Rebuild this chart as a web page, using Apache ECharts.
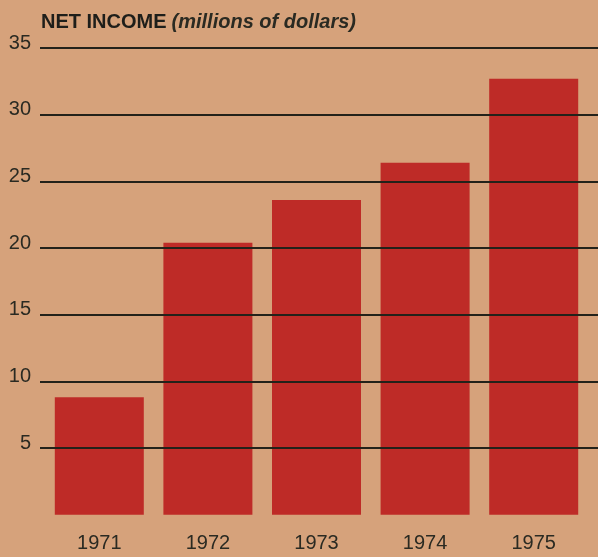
<!DOCTYPE html>
<html>
<head>
<meta charset="utf-8">
<script src="https://cdn.jsdelivr.net/npm/echarts@6/dist/echarts.min.js"></script>
<style>
html,body{margin:0;padding:0;background:#d6a27b;}
#c{width:598px;height:557px;}
</style>
</head>
<body>
<div id="c"></div>
<script>
const years = ['1971', '1972', '1973', '1974', '1975'];
const netIncome = [8.8, 20.4, 23.6, 26.4, 32.7];
const yTicks = [5, 10, 15, 20, 25, 30, 35];

const chart = echarts.init(document.getElementById('c'), null, {renderer: 'canvas'});
const font = '"Liberation Sans", Arial, Helvetica, sans-serif';
const ink = '#2a2a22';

chart.setOption({
  backgroundColor: '#d6a27b',
  animation: false,
  title: {
    left: 36, top: 7,
    text: '{b|NET INCOME} {i|(millions of dollars)}',
    textStyle: {
      rich: {
        b: {fontFamily: font, fontSize: 20, fontWeight: 'bold', color: '#1e1e1a'},
        i: {fontFamily: font, fontSize: 20, fontStyle: 'italic', color: '#2a2a22'}
      }
    }
  },
  grid: [
    {left: 40, right: 0, top: 48, height: 400},
    {left: 45, right: 10, top: 48, height: 466.7}
  ],
  xAxis: [
    {gridIndex: 0, type: 'value', show: false, min: 0, max: 1},
    {gridIndex: 1, type: 'category', data: years,
     axisLine: {show: false}, axisTick: {show: false},
     axisLabel: {fontFamily: font, fontSize: 20, color: ink, margin: 19}}
  ],
  yAxis: [
    {gridIndex: 0, type: 'value', min: yTicks[0], max: yTicks[yTicks.length - 1], interval: 5, z: 10,
     axisLine: {show: false}, axisTick: {show: false},
     axisLabel: {fontFamily: font, fontSize: 20, color: ink, margin: 9,
       verticalAlign: 'bottom', lineHeight: 10,
       formatter: v => yTicks.includes(v) ? String(v) : ''},
     splitLine: {show: true, lineStyle: {color: '#23221a', width: 2}}},
    {gridIndex: 1, type: 'value', min: 0, max: 35, show: false, splitLine: {show: false}}
  ],
  series: [{
    type: 'bar',
    xAxisIndex: 1, yAxisIndex: 1,
    data: netIncome,
    barWidth: 89,
    itemStyle: {color: '#be2b27'}
  }]
});
</script>
</body>
</html>
